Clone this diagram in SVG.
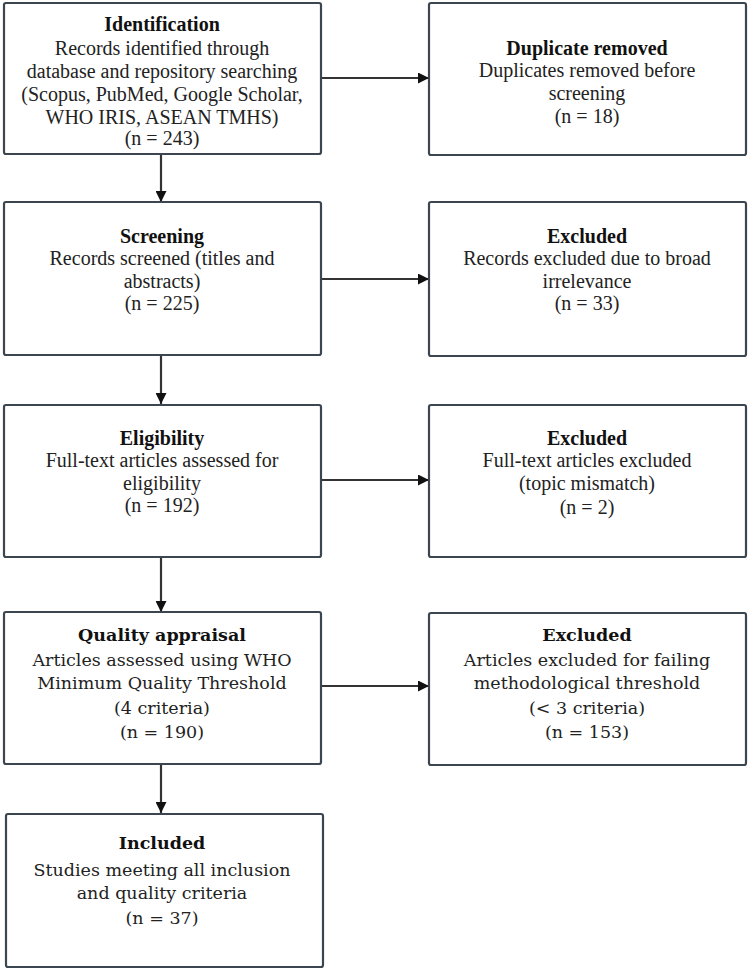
<svg xmlns="http://www.w3.org/2000/svg" width="750" height="970" viewBox="0 0 750 970">
<style>
.box{fill:#ffffff;stroke:#3b4650;stroke-width:2.2}
.t{font-family:"Liberation Serif","Times New Roman",serif;font-size:20px;fill:#222;text-anchor:middle}
.c{font-family:"DejaVu Serif","Liberation Serif",serif;font-size:17.5px;fill:#222;text-anchor:middle}
.b{font-weight:bold;fill:#111}
.conn{stroke:#333;stroke-width:2.2;fill:none;marker-end:url(#ah)}
</style>
<defs>
<marker id="ah" viewBox="0 0 10 10" refX="10" refY="5" markerWidth="5" markerHeight="5" markerUnits="strokeWidth" orient="auto">
<path d="M0,0 L10,5 L0,10 z" fill="#111"/>
</marker>
</defs>
<rect width="750" height="970" fill="#ffffff"/>
<g id="connectors">
<line class="conn" x1="322" y1="78" x2="429" y2="78"/>
<line class="conn" x1="322" y1="279" x2="429" y2="279"/>
<line class="conn" x1="322" y1="480" x2="429" y2="480"/>
<line class="conn" x1="322" y1="686" x2="429" y2="686"/>
<line class="conn" x1="161" y1="155" x2="161" y2="202"/>
<line class="conn" x1="161" y1="356" x2="161" y2="404"/>
<line class="conn" x1="161" y1="558" x2="161" y2="612"/>
<line class="conn" x1="161" y1="765" x2="161" y2="813"/>
</g>
<g id="identification">
<rect class="box" x="4" y="3" width="317" height="151" rx="2"/>
<text class="t b" x="162" y="31">Identification</text>
<text class="t" x="162" y="55">Records identified through</text>
<text class="t" x="162" y="78">database and repository searching</text>
<text class="t" x="162" y="101">(Scopus, PubMed, Google Scholar,</text>
<text class="t" x="162" y="124">WHO IRIS, ASEAN TMHS)</text>
<text class="t" x="162" y="145">(n = 243)</text>
</g>
<g id="duplicate">
<rect class="box" x="429" y="3" width="317" height="152" rx="2"/>
<text class="t b" x="587" y="55">Duplicate removed</text>
<text class="t" x="587" y="77">Duplicates removed before</text>
<text class="t" x="587" y="100">screening</text>
<text class="t" x="587" y="123">(n = 18)</text>
</g>
<g id="screening">
<rect class="box" x="4" y="202" width="317" height="153" rx="2"/>
<text class="t b" x="162" y="243">Screening</text>
<text class="t" x="162" y="265">Records screened (titles and</text>
<text class="t" x="162" y="288">abstracts)</text>
<text class="t" x="162" y="310">(n = 225)</text>
</g>
<g id="excluded1">
<rect class="box" x="429" y="202" width="317" height="154" rx="2"/>
<text class="t b" x="587" y="243">Excluded</text>
<text class="t" x="587" y="265">Records excluded due to broad</text>
<text class="t" x="587" y="288">irrelevance</text>
<text class="t" x="587" y="310">(n = 33)</text>
</g>
<g id="eligibility">
<rect class="box" x="4" y="405" width="317" height="152" rx="2"/>
<text class="t b" x="162" y="445">Eligibility</text>
<text class="t" x="162" y="467">Full-text articles assessed for</text>
<text class="t" x="162" y="490">eligibility</text>
<text class="t" x="162" y="512">(n = 192)</text>
</g>
<g id="excluded2">
<rect class="box" x="429" y="405" width="317" height="152" rx="2"/>
<text class="t b" x="587" y="445">Excluded</text>
<text class="t" x="587" y="467">Full-text articles excluded</text>
<text class="t" x="587" y="490">(topic mismatch)</text>
<text class="t" x="587" y="514">(n = 2)</text>
</g>
<g id="quality">
<rect class="box" x="4" y="612" width="317" height="152" rx="2"/>
<text class="c b" x="162" y="641">Quality appraisal</text>
<text class="c" x="162" y="666">Articles assessed using WHO</text>
<text class="c" x="162" y="689">Minimum Quality Threshold</text>
<text class="c" x="162" y="714">(4 criteria)</text>
<text class="c" x="162" y="738">(n = 190)</text>
</g>
<g id="excluded3">
<rect class="box" x="429" y="613" width="317" height="152" rx="2"/>
<text class="c b" x="587" y="641">Excluded</text>
<text class="c" x="587" y="666">Articles excluded for failing</text>
<text class="c" x="587" y="689">methodological threshold</text>
<text class="c" x="587" y="714">(&lt; 3 criteria)</text>
<text class="c" x="587" y="738">(n = 153)</text>
</g>
<g id="included">
<rect class="box" x="6" y="814" width="317" height="153" rx="2"/>
<text class="c b" x="162" y="849">Included</text>
<text class="c" x="162" y="876">Studies meeting all inclusion</text>
<text class="c" x="162" y="899">and quality criteria</text>
<text class="c" x="162" y="924">(n = 37)</text>
</g>
</svg>
